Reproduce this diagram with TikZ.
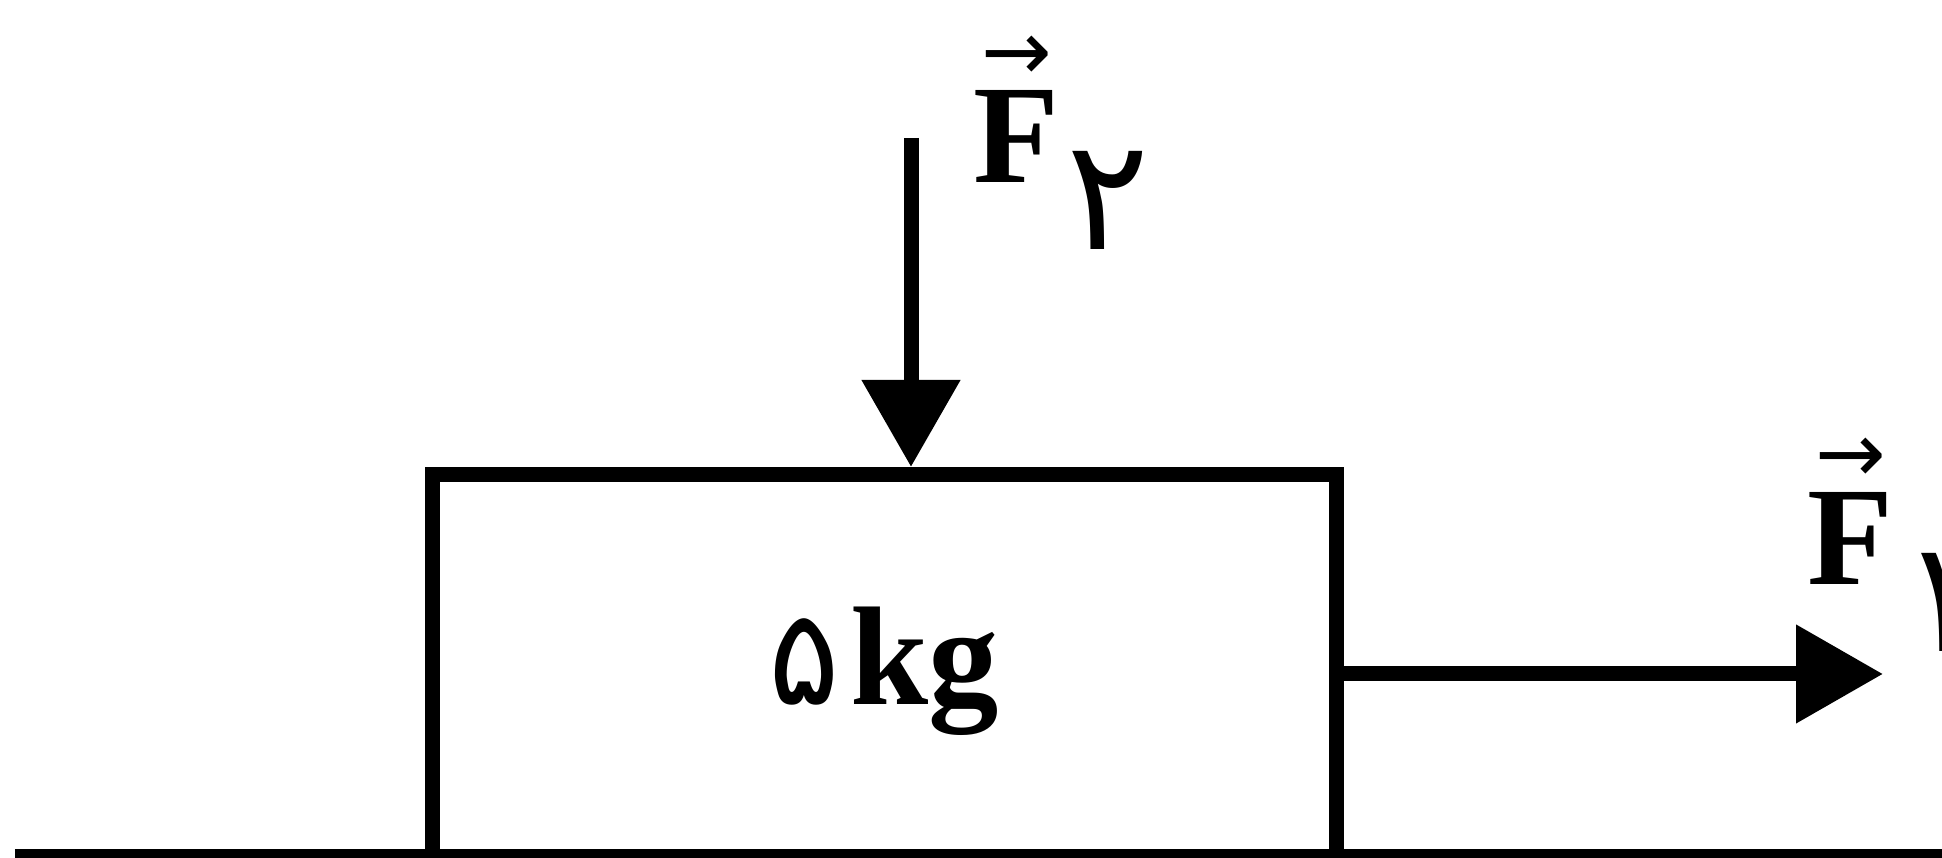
\documentclass[tikz,border=0pt]{standalone}
\usepackage{fontspec}
\setmainfont{Liberation Serif}
\newfontfamily\persian[Script=Arabic]{DejaVu Sans}
\usetikzlibrary{arrows.meta}
\usetikzlibrary{positioning}
\tikzset{block/.style = {draw, line width = 0.15cm, minimum width = 9.04cm,
                         minimum height = 3.825cm, inner sep = 0}}
\tikzset{force/.style = {line width = 0.15cm,
                         -{Triangle[width = 0.95cm, length = 0.87cm]}}}
\tikzset{lbl/.style = {inner sep = 0, anchor = base west,
                       font = \fontsize{40}{48}\selectfont}}
% bold letter with a thin arrow above it
\newcommand{\vecbf}[1]{\leavevmode\vbox{\offinterlineskip
    \halign{\hfil##\hfil\cr
      {\persian\fontsize{24}{24}\selectfont →}\cr
      \noalign{\kern3pt}
      \textbf{#1}\cr}}}
\newcommand{\sub}[1]{\kern2pt\raisebox{-0.67cm}{\persian\fontsize{44}{48}\selectfont #1}}

\begin{document}
\begin{tikzpicture}
    \useasboundingbox (0, 0) rectangle (19.42, 8.58);
    \draw [line width = 0.15cm] (0.15, 0.01) -- (19.42, 0.01);
    \node [block] (box) at (8.84, 1.9225) {};
    \node [lbl] (mass) at (7.68, 1.53)
      {{\persian\fontsize{38}{40}\selectfont ۵}\kern0.1cm\textbf{kg}};

    \coordinate (f2start) at (9.11, 7.20);
    \coordinate (f1end) at (18.83, 1.84);
    \draw [force] (f2start) -- (f2start |- box.north);
    \draw [force] (box.east |- f1end) -- (f1end);

    \node [lbl] (f2label) at (9.73, 6.75) {\vecbf{F}\sub{۲}};
    \node [lbl] (f1label) at (18.07, 2.73) {\vecbf{F}\sub{۱}};
  \end{tikzpicture}
\end{document}
